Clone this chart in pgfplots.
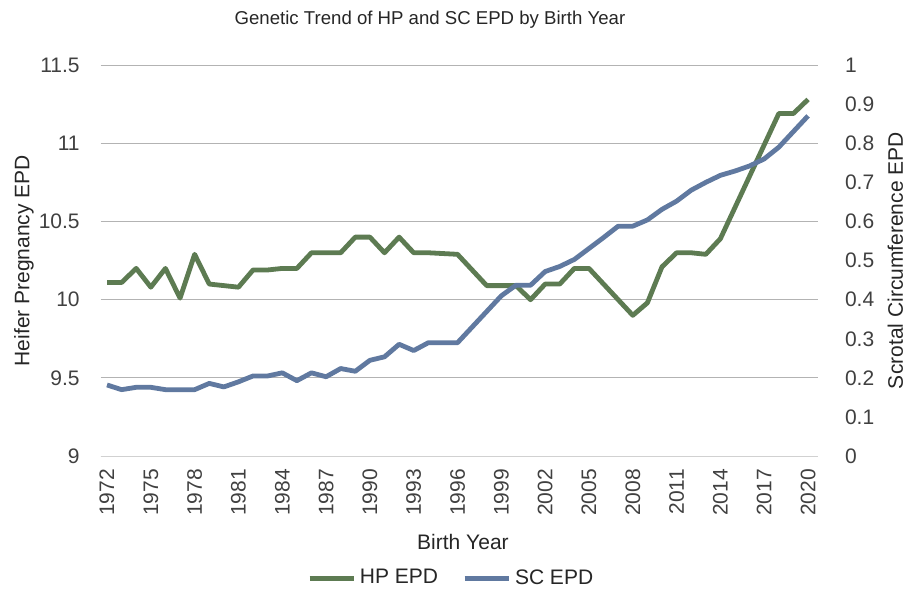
\documentclass[border=0pt]{standalone}
\usepackage{pgfplots}
\pgfplotsset{compat=1.18}
\usepackage{fontspec}
\setmainfont{Liberation Sans}
\definecolor{hpgreen}{HTML}{5D7B52}
\definecolor{scblue}{HTML}{6079A0}
\definecolor{gridc}{HTML}{B3B3B3}
\definecolor{txt}{HTML}{262626}
\definecolor{tick}{HTML}{404040}

\pgfplotstableread{
year hp
1972 10.11
1973 10.11
1974 10.20
1975 10.08
1976 10.20
1977 10.01
1978 10.29
1979 10.10
1980 10.09
1981 10.08
1982 10.19
1983 10.19
1984 10.20
1985 10.20
1986 10.30
1987 10.30
1988 10.30
1989 10.40
1990 10.40
1991 10.30
1992 10.40
1993 10.30
1994 10.30
1995 10.295
1996 10.29
1997 10.19
1998 10.09
1999 10.09
2000 10.09
2001 10.00
2002 10.10
2003 10.10
2004 10.20
2005 10.20
2006 10.10
2007 10.00
2008 9.90
2009 9.98
2010 10.21
2011 10.30
2012 10.30
2013 10.29
2014 10.39
2015 10.59
2016 10.79
2017 10.99
2018 11.19
2019 11.19
2020 11.28
}\hptable

\pgfplotstableread{
year sc
1972 0.182
1973 0.170
1974 0.176
1975 0.176
1976 0.170
1977 0.170
1978 0.170
1979 0.186
1980 0.177
1981 0.190
1982 0.205
1983 0.205
1984 0.213
1985 0.193
1986 0.213
1987 0.203
1988 0.224
1989 0.217
1990 0.245
1991 0.254
1992 0.286
1993 0.270
1994 0.290
1995 0.290
1996 0.290
1997 0.330
1998 0.370
1999 0.410
2000 0.437
2001 0.437
2002 0.472
2003 0.485
2004 0.503
2005 0.531
2006 0.559
2007 0.588
2008 0.588
2009 0.604
2010 0.631
2011 0.652
2012 0.680
2013 0.700
2014 0.718
2015 0.729
2016 0.742
2017 0.760
2018 0.790
2019 0.830
2020 0.870
}\sctable

\begin{document}
\begin{tikzpicture}[font=\fontsize{10.5}{12}\selectfont]
\begin{axis}[
  name=ax1,
  scale only axis,
  width=358.5pt, height=195.5pt,
  xmin=1971.57, xmax=2020.68,
  ymin=9, ymax=11.5,
  axis y line*=left,
  axis x line*=bottom,
  axis line style={draw=none},
  xtick={1972,1975,...,2020},
  xticklabel style={rotate=90, anchor=east, text=tick},
  x tick label style={/pgf/number format/1000 sep={}},
  ytick={9,9.5,10,10.5,11,11.5},
  yticklabels={9,9.5,10,10.5,11,11.5},
  yticklabel style={text=tick},
  tick style={draw=none},
  xtick align=outside,
  major tick length=0pt,
  xticklabel shift=3pt,
  yticklabel shift=7pt,
  ymajorgrids,
  grid style={draw=gridc, line width=0.5pt},
  /pgf/number format/assume math mode=true,
  ylabel={Heifer Pregnancy EPD},
  ylabel style={at={(axis description cs:-0.107,0.5)}, anchor=center, text=txt},
  xlabel={Birth Year},
  xlabel style={at={(axis description cs:0.505,-0.22)}, anchor=center, text=txt},
  every axis title shift=0pt,
  title={Genetic Trend of HP and SC EPD by Birth Year},
  title style={at={(axis description cs:0.459,1.115)}, anchor=center, yshift=0pt, text=txt, font=\fontsize{9.3}{11}\selectfont},
  legend style={at={(axis description cs:0.49,-0.312)}, anchor=center, draw=none, legend columns=2, text=txt,
    /tikz/every even column/.append style={column sep=10pt}},
  legend image code/.code={\draw[#1, line width=2.4pt] (0pt,0pt) -- (22pt,0pt);},
]
\draw[draw=white, line width=0.6pt] (rel axis cs:0,0) -- (rel axis cs:1,0);
\draw[draw=gridc!60, line width=0.5pt] (rel axis cs:0,0) -- (rel axis cs:1,0);
\coordinate (bl) at (rel axis cs:0,0);
\coordinate (tr) at (rel axis cs:1,1);
\addplot[hpgreen, line width=2.4pt, line join=round] table[x=year, y=hp] {\hptable};
\addlegendentry{HP EPD}
\addlegendimage{scblue, line width=2.4pt}
\addlegendentry{SC EPD}
\end{axis}
\begin{axis}[
  scale only axis,
  width=358.5pt, height=195.5pt,
  xmin=1971.57, xmax=2020.68,
  ymin=0, ymax=1,
  axis y line*=right,
  axis x line=none,
  axis line style={draw=none},
  ytick={0,0.1,...,1.01},
  yticklabels={0,0.1,0.2,0.3,0.4,0.5,0.6,0.7,0.8,0.9,1},
  yticklabel style={text=tick, anchor=west},
  tick style={draw=none},
  major tick length=0pt,
  yticklabel shift=10pt,
  /pgf/number format/assume math mode=true,
  ylabel={Scrotal Circumference EPD},
  ylabel style={at={(axis description cs:1.108,0.5)}, anchor=center, rotate=0, text=txt},
]
\addplot[scblue, line width=2.4pt, line join=round] table[x=year, y=sc] {\sctable};
\end{axis}
\pgfresetboundingbox
\path[use as bounding box] ([xshift=-50.35pt,yshift=-67pt]bl) rectangle ([xshift=50pt,yshift=32.5pt]tr);
\end{tikzpicture}
\end{document}
